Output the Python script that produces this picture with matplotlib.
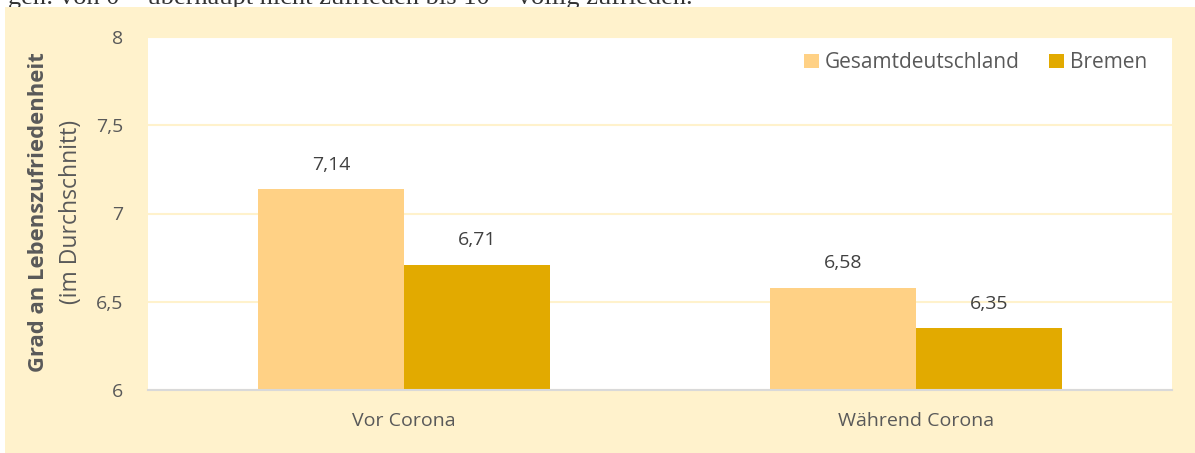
import numpy as np
import matplotlib.pyplot as plt
from matplotlib.patches import Rectangle

categories = ['Vor Corona', 'Während Corona']
series_names = ['Gesamtdeutschland', 'Bremen']
gesamt = [7.14, 6.58]
bremen = [6.71, 6.35]
yticks = [6, 6.5, 7, 7.5, 8]
ytick_labels = ['6', '6,5', '7', '7,5', '8']

cream = '#FFF2CC'
col_gesamt = '#FFD185'
col_bremen = '#E2AA00'
txt = '#595959'

plt.rcParams['font.family'] = ['Open Sans', 'DejaVu Sans']

W, H = 1195, 453
fig = plt.figure(figsize=(W / 100, H / 100), dpi=100)
fig.patch.set_facecolor('white')

# cream panel behind the chart
fig.patches.append(Rectangle((5 / W, 0), 1 - 5 / W, 1 - 7 / H,
                             transform=fig.transFigure, facecolor=cream,
                             edgecolor='none', zorder=-1))

# clipped caption line from the surrounding document
fig.text(8 / W, 1 - 4 / H,
         'gen: von 0 = überhaupt nicht zufrieden bis 10 = völlig zufrieden.',
         family='Liberation Serif', fontsize=19, color='#333333',
         ha='left', va='baseline', zorder=-2)

left, right, top, bottom = 148, 1172, 37, 390
ax = fig.add_axes([left / W, 1 - bottom / H, (right - left) / W, (bottom - top) / H])
ax.set_facecolor('white')

x = np.arange(len(categories))
w = 0.285
b1 = ax.bar(x - w / 2, np.array(gesamt) - 6, w, bottom=6, color=col_gesamt,
            label=series_names[0], zorder=3)
b2 = ax.bar(x + w / 2, np.array(bremen) - 6, w, bottom=6, color=col_bremen,
            label=series_names[1], zorder=3)

for bars, vals in [(b1, gesamt), (b2, bremen)]:
    for r, v in zip(bars, vals):
        ax.annotate(f'{v:.2f}'.replace('.', ','),
                    (r.get_x() + r.get_width() / 2, v),
                    xytext=(0, 11), textcoords='offset points',
                    ha='center', va='bottom', fontsize=14, color='#404040')

ax.set_xlim(-0.5, 1.5)
ax.set_ylim(6, 8)
ax.set_yticks(yticks)
ax.set_yticklabels(ytick_labels)
ax.set_xticks(x)
ax.set_xticklabels(categories)
ax.tick_params(axis='both', length=0, labelsize=14, labelcolor=txt)
ax.tick_params(axis='y', pad=18)
ax.tick_params(axis='x', pad=16)

ax.grid(axis='y', color=cream, linewidth=1.5, zorder=0)
for s in ['top', 'right', 'left']:
    ax.spines[s].set_visible(False)
ax.spines['bottom'].set_color('#D9D9D9')
ax.spines['bottom'].set_linewidth(1.5)
ax.spines['bottom'].set_zorder(4)

fig.text(39 / W, 1 - 212 / H, 'Grad an Lebenszufriedenheit', rotation=90,
         fontsize=15.8, fontweight='bold', color=txt, ha='center', va='center')
fig.text(71 / W, 1 - 212 / H, '(im Durchschnitt)', rotation=90,
         fontsize=16.5, color=txt, ha='center', va='center')

leg = ax.legend(loc='upper right', bbox_to_anchor=(0.994, 1.01), ncol=2,
                frameon=False, fontsize=15, handlelength=0.7, handleheight=0.7,
                handletextpad=0.3, columnspacing=1.4)
for t in leg.get_texts():
    t.set_color(txt)

fig.savefig('out.png', dpi=100)
